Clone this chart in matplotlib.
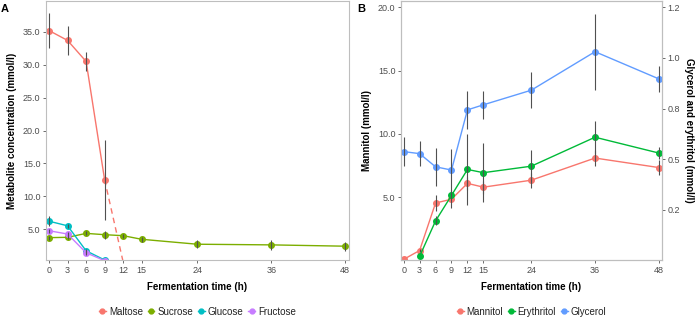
import numpy as np
import matplotlib
matplotlib.use("Agg")
import matplotlib.pyplot as plt
from matplotlib.lines import Line2D

#%% data
# panel A: sugars (mmol/l)
t_all = [0, 3, 6, 9, 12, 15, 24, 36, 48]
t_early = [0, 3, 6, 9]

maltose = [35.2, 33.7, 30.5, 12.5]
maltose_err = [2.7, 2.2, 1.5, 6.1]
maltose_extrap_t = [9, 12]
maltose_extrap = [12.5, 0.0]

sucrose = [3.7, 3.75, 4.35, 4.15, 4.0, 3.45, 2.7, 2.6, 2.4]
sucrose_err = [0.3, 0.3, 0.3, 0.6, 0.3, 0.4, 0.6, 0.8, 0.7]

glucose = [6.2, 5.5, 1.7, 0.3]
glucose_err = [0.75, 0.3, 0.3, 0.0]

fructose = [4.75, 4.25, 1.4, 0.2]
fructose_err = [0.3, 0.3, 0.3, 0.0]

# panel B: mannitol (left axis), glycerol + erythritol (right axis)
mannitol = [0.1, 0.8, 4.55, 4.85, 6.1, 5.8, 6.35, 8.1, 7.35]
mannitol_err = [0.0, 0.1, 0.6, 0.7, 0.5, 0.5, 0.6, 0.6, 0.6]

t_ery = [3, 6, 9, 12, 15, 24, 36, 48]
erythritol = [0.021, 0.196, 0.322, 0.45, 0.434, 0.466, 0.609, 0.531]
erythritol_err = [0.0, 0.022, 0.019, 0.175, 0.147, 0.081, 0.081, 0.031]

glycerol = [0.538, 0.528, 0.463, 0.447, 0.744, 0.769, 0.841, 1.031, 0.897]
glycerol_err = [0.072, 0.063, 0.094, 0.106, 0.094, 0.069, 0.088, 0.188, 0.063]

x_ticks = [0, 3, 6, 9, 12, 15, 24, 36, 48]
right_ticks = [0.25, 0.5, 0.75, 1.0, 1.25]
right_labels = ['0.2', '0.5', '0.8', '1.0', '1.2']

#%% style
c_red, c_olive, c_cyan, c_purple = '#F8766D', '#7CAE00', '#00BFC4', '#C77CFF'
c_green, c_blue = '#00BA38', '#619CFF'
err_col = '#505050'
spine_col = '#BEBEBE'
txt_col = '#4D4D4D'
plt.rcParams['font.family'] = ['Liberation Sans', 'DejaVu Sans']

fig = plt.figure(figsize=(6.95, 3.17), dpi=100)
axA = fig.add_axes([46/695, 57/317, 303/695, 259/317])
axB = fig.add_axes([401/695, 57/317, 261/695, 259/317])
axB2 = axB.twinx()


def series(ax, t, y, err, color):
    ax.plot(t, y, color=color, lw=1.0, marker='o', ms=4, zorder=2)
    ax.errorbar(t, y, yerr=err, fmt='none', ecolor=err_col, elinewidth=0.8, capsize=0, zorder=3)


def style(ax):
    for s in ax.spines.values():
        s.set_color(spine_col)
        s.set_linewidth(0.8)
    ax.tick_params(colors=txt_col, labelsize=6.5, length=2.5, width=0.6, pad=1.5)
    ax.tick_params(axis='both', color='#555555')


#%% panel A
series(axA, t_early, maltose, maltose_err, c_red)
axA.plot(maltose_extrap_t, maltose_extrap, color=c_red, lw=1.0, ls=(0, (4, 3)), zorder=2)
series(axA, t_all, sucrose, sucrose_err, c_olive)
series(axA, t_early, glucose, glucose_err, c_cyan)
series(axA, t_early, fructose, fructose_err, c_purple)
axA.set_xlim(-0.5, 48.6)
axA.set_ylim(0.3, 39.7)
axA.set_xticks(x_ticks)
axA.set_yticks([5, 10, 15, 20, 25, 30, 35])
axA.set_yticklabels([f'{v:.1f}' for v in [5, 10, 15, 20, 25, 30, 35]])
axA.set_ylabel('Metabolite concentration (mmol/l)', fontsize=7, fontweight='bold', labelpad=4)
axA.set_xlabel('Fermentation time (h)', fontsize=7, fontweight='bold', labelpad=5)
style(axA)

#%% panel B
series(axB, t_all, mannitol, mannitol_err, c_red)
series(axB2, t_ery, erythritol, erythritol_err, c_green)
series(axB2, t_all, glycerol, glycerol_err, c_blue)
axB.set_xlim(-0.5, 48.6)
axB.set_ylim(0.05, 20.5)
axB2.set_ylim(0.05/16, 20.5/16)
axB.set_xticks(x_ticks)
axB.set_yticks([5, 10, 15, 20])
axB.set_yticklabels([f'{v:.1f}' for v in [5, 10, 15, 20]])
axB2.set_yticks(right_ticks)
axB2.set_yticklabels(right_labels)
axB.set_ylabel('Mannitol (mmol/l)', fontsize=7, fontweight='bold', labelpad=4)
axB2.set_ylabel('Glycerol and erythritol (mmol/l)', fontsize=7, fontweight='bold',
                rotation=270, labelpad=10)
axB.set_xlabel('Fermentation time (h)', fontsize=7, fontweight='bold', labelpad=5)
style(axB)
style(axB2)

#%% panel letters
fig.text(1/695, 1 - 9/317, 'A', fontsize=8, fontweight='bold', va='center')
fig.text(357/695, 1 - 9/317, 'B', fontsize=8, fontweight='bold', va='center')

#%% legends
def legend(ax, names, colors):
    handles = [Line2D([0], [0], color=c, marker='o', ms=3.5, lw=1.0) for c in colors]
    ax.legend(handles, names, loc='center', bbox_to_anchor=(0.5, -0.2), ncol=len(names),
              frameon=False, fontsize=7, handlelength=0.7, handletextpad=0.3,
              columnspacing=0.5, labelcolor='#222222')


legend(axA, ['Maltose', 'Sucrose', 'Glucose', 'Fructose'], [c_red, c_olive, c_cyan, c_purple])
legend(axB, ['Mannitol', 'Erythritol', 'Glycerol'], [c_red, c_green, c_blue])

fig.savefig('out.png', dpi=100)
